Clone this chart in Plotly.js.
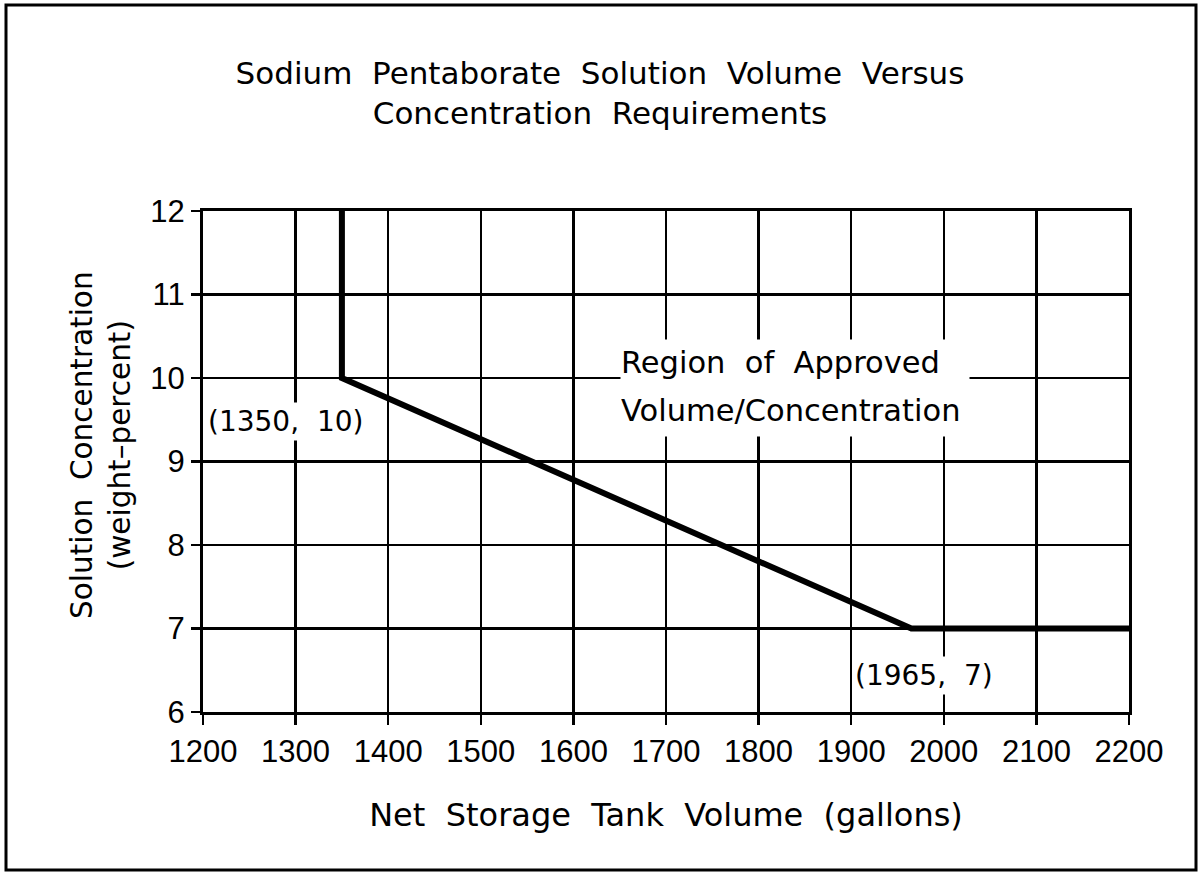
<!DOCTYPE html>
<html>
<head>
<meta charset="utf-8">
<script src="https://cdn.plot.ly/plotly-3.0.1.min.js"></script>
<style>html,body{margin:0;padding:0;background:#fff;}#chart{width:1202px;height:872px;}</style>
</head>
<body>
<div id="chart"></div>
<script>
// Data
var volumeGallons = [1350, 1350, 1965, 2200];
var concentrationPct = [12, 10, 7, 7];
var xTicks = [1200, 1300, 1400, 1500, 1600, 1700, 1800, 1900, 2000, 2100, 2200];
var yTicks = [6, 7, 8, 9, 10, 11, 12];
var titleText = "Sodium  Pentaborate  Solution  Volume  Versus<br>Concentration  Requirements";
var xTitle = "Net  Storage  Tank  Volume  (gallons)";
var yTitle = "Solution  Concentration<br>(weight\u2013percent)";
var pointLabels = [
  {x: 1350, y: 10, text: "(1350,  10)"},
  {x: 1965, y: 7, text: "(1965,  7)"}
];
var regionLines = ["Region  of  Approved", "Volume/Concentration"];

var TXT = "DejaVu Sans, Verdana, sans-serif";
var NUM = "Liberation Sans, Arial, sans-serif";
var L = 203, R = 73, T = 211, B = 160;
var W = 1202, H = 872;
var pw = W - L - R, ph = H - T - B;
function px2x(p){ return (p - L) / pw; }
function py2y(p){ return (H - B - p) / ph; }

var trace = {
  x: volumeGallons, y: concentrationPct, mode: 'lines', type: 'scatter',
  line: {color: '#000', width: 6}, hoverinfo: 'skip', showlegend: false
};

var layout = {
  width: W, height: H,
  margin: {l: L, r: R, t: T, b: B},
  paper_bgcolor: '#fff', plot_bgcolor: '#fff',
  font: {family: TXT, color: '#000', size: 28},
  title: {text: titleText, font: {family: TXT, size: 31, color: '#000'},
          x: 600 / W, xanchor: 'center', y: 1 - 84 / H, yanchor: 'middle', yref: 'container'},
  xaxis: {
    range: [1200, 2200], tickvals: xTicks, ticktext: xTicks.map(String),
    showgrid: true, gridcolor: '#000', gridwidth: 2.5, zeroline: false,
    showline: true, linecolor: '#000', linewidth: 3, mirror: true,
    ticks: 'outside', ticklen: 10, tickwidth: 2.5, tickcolor: '#000',
    tickfont: {family: NUM, size: 31}, fixedrange: true,
    title: {text: xTitle, font: {family: TXT, size: 32}, standoff: 36}
  },
  yaxis: {
    range: [6, 12], tickvals: yTicks, ticktext: yTicks.map(String),
    showgrid: true, gridcolor: '#000', gridwidth: 2.5, zeroline: false,
    showline: true, linecolor: '#000', linewidth: 3, mirror: true,
    ticks: 'outside', ticklen: 9, tickwidth: 2.5, tickcolor: '#000',
    tickfont: {family: NUM, size: 31}, fixedrange: true
  },
  shapes: [{
    type: 'rect', xref: 'paper', yref: 'paper',
    x0: px2x(6), x1: px2x(1196), y0: py2y(870), y1: py2y(5),
    line: {color: '#000', width: 3}, fillcolor: 'rgba(0,0,0,0)', layer: 'below'
  }],
  annotations: [
    {x: px2x(101), y: py2y(445), xref: 'paper', yref: 'paper', text: yTitle, textangle: -90,
     showarrow: false, xanchor: 'center', yanchor: 'middle', font: {family: TXT, size: 29.5}},
    {x: pointLabels[0].x, y: pointLabels[0].y, xref: 'x', yref: 'y', text: pointLabels[0].text,
     showarrow: false, xshift: -56, yshift: -43, bgcolor: '#fff', borderpad: 2, font: {family: TXT, size: 28}},
    {x: pointLabels[1].x, y: pointLabels[1].y, xref: 'x', yref: 'y', text: pointLabels[1].text,
     showarrow: false, xshift: 13, yshift: -47, bgcolor: '#fff', borderpad: 2, font: {family: TXT, size: 28}},
    {x: 1650, y: 10.19, xref: 'x', yref: 'y', text: regionLines[0], showarrow: false,
     xanchor: 'left', align: 'left', width: 348, height: 44, bgcolor: '#fff', borderpad: 0,
     font: {family: TXT, size: 30.5}},
    {x: 1650, y: 9.62, xref: 'x', yref: 'y', text: regionLines[1], showarrow: false,
     xanchor: 'left', align: 'left', width: 348, height: 52, bgcolor: '#fff', borderpad: 0,
     font: {family: TXT, size: 30.5}}
  ]
};

Plotly.newPlot('chart', [trace], layout, {staticPlot: true, displayModeBar: false});
</script>
</body>
</html>
